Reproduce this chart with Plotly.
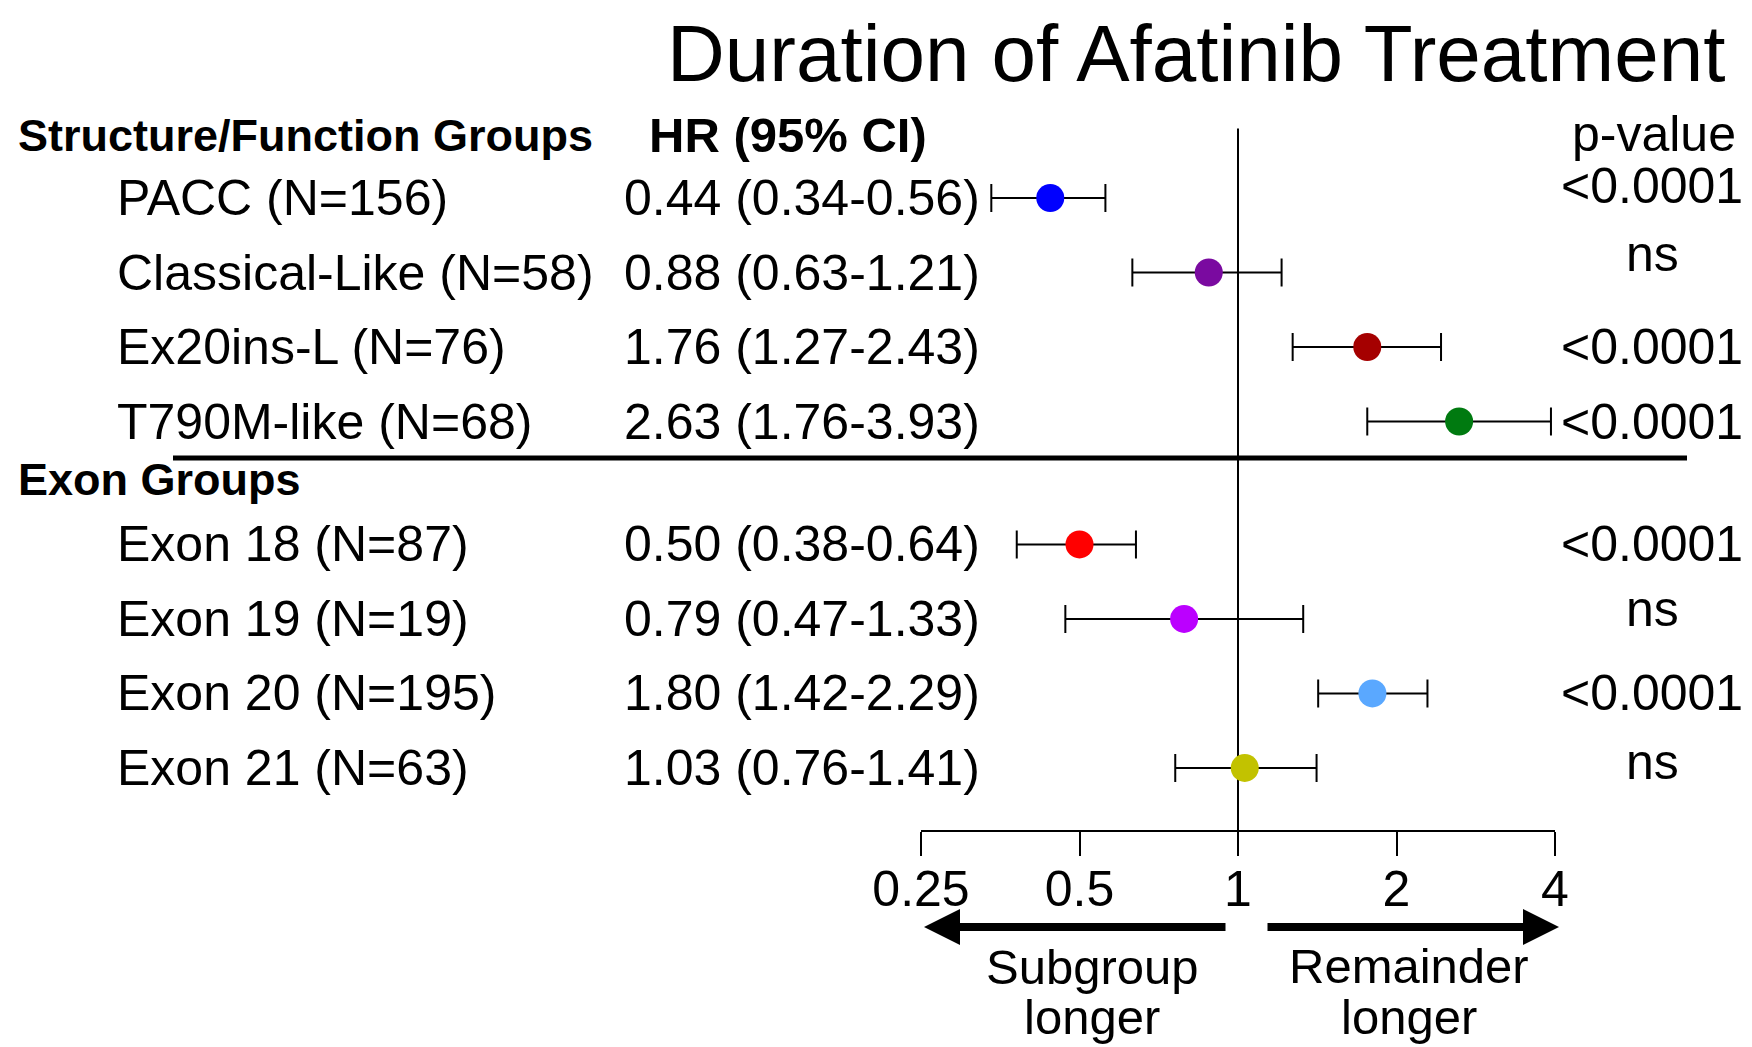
import math
import plotly.graph_objects as go

W, H = 1752, 1047

# ---------------- data ----------------
title_text = "Duration of Afatinib Treatment"
group_headers = ["Structure/Function Groups", "Exon Groups"]
hr_header = "HR (95% CI)"
p_header = "p-value"

labels_struct = ["PACC (N=156)", "Classical-Like (N=58)", "Ex20ins-L (N=76)", "T790M-like (N=68)"]
hr_struct = [0.44, 0.88, 1.76, 2.63]
lo_struct = [0.34, 0.63, 1.27, 1.76]
hi_struct = [0.56, 1.21, 2.43, 3.93]
p_struct = ["<0.0001", "ns", "<0.0001", "<0.0001"]

labels_exon = ["Exon 18 (N=87)", "Exon 19 (N=19)", "Exon 20 (N=195)", "Exon 21 (N=63)"]
hr_exon = [0.50, 0.79, 1.80, 1.03]
lo_exon = [0.38, 0.47, 1.42, 0.76]
hi_exon = [0.64, 1.33, 2.29, 1.41]
p_exon = ["<0.0001", "ns", "<0.0001", "ns"]

tick_vals = [0.25, 0.5, 1, 2, 4]
tick_text = ["0.25", "0.5", "1", "2", "4"]
left_note = ["Subgroup", "longer"]
right_note = ["Remainder", "longer"]

# ---------------- styles / layout ----------------
colors_struct = ["#0000FF", "#7A0AA0", "#A50000", "#007A10"]
colors_exon = ["#FF0000", "#BB00FF", "#5AA8FF", "#C2C200"]
pos_struct = [0, 1, 2, 3]
pos_exon = [4.65, 5.65, 6.65, 7.65]
pshift_struct = [12, 19, 0, 0]
pshift_exon = [0, 10, 0, 6]

FONT = "Liberation Sans, Arial, sans-serif"
FS = 50

# the page places the figure 8 px in from the top-left corner
OFF_X, OFF_Y = -8.0, -8.0
ROW0_PX, ROW_PX = 198.0, 74.5
Y_TOP_PX, Y_BOT_PX = 100.0, 830.0
X_L_PX, X_R_PX = 921.0, 1555.0


def row_at(py):
    return (py - ROW0_PX) / ROW_PX


def xp(px):
    return (px + OFF_X) / W


def yp(py):
    return 1 - (py + OFF_Y) / H


fig = go.Figure()

for hr, lo, hi, cols, pos in [
    (hr_struct, lo_struct, hi_struct, colors_struct, pos_struct),
    (hr_exon, lo_exon, hi_exon, colors_exon, pos_exon),
]:
    fig.add_trace(go.Scatter(
        x=hr, y=pos, mode="markers",
        marker=dict(size=28, color=cols, line=dict(width=0)),
        error_x=dict(type="data", symmetric=False,
                     array=[h - r for h, r in zip(hi, hr)],
                     arrayminus=[r - l for r, l in zip(hr, lo)],
                     color="black", thickness=2, width=14),
        hoverinfo="skip", cliponaxis=False,
    ))

annotations = []


def add_text(text, x, y, xanchor="left", yref="paper", size=FS, bold=False, yshift=0):
    annotations.append(dict(
        text=("<b>%s</b>" % text) if bold else text,
        x=x, y=y, xref="paper", yref=yref, xanchor=xanchor, yanchor="middle",
        showarrow=False, yshift=yshift, borderpad=0,
        font=dict(family=FONT, size=size, color="black"),
    ))


# title and headers
add_text(title_text, xp(1726), yp(54), xanchor="right", size=80)
add_text(group_headers[0], xp(17), yp(135), bold=True, size=45)
add_text(hr_header, xp(648), yp(135), bold=True, size=49)
add_text(p_header, xp(1654), yp(134), xanchor="center")
add_text(group_headers[1], xp(17), yp(479), bold=True, size=45)

# rows
for labels, hr, lo, hi, pv, pos, psh in [
    (labels_struct, hr_struct, lo_struct, hi_struct, p_struct, pos_struct, pshift_struct),
    (labels_exon, hr_exon, lo_exon, hi_exon, p_exon, pos_exon, pshift_exon),
]:
    for lab, r, l, h, p, y, s in zip(labels, hr, lo, hi, pv, pos, psh):
        add_text(lab, xp(116), y, yref="y")
        add_text("%.2f (%.2f-%.2f)" % (r, l, h), xp(981), y, xanchor="right", yref="y")
        add_text(p, xp(1652), y, xanchor="center", yref="y", yshift=s)

# bottom notes
add_text(left_note[0], xp(1092), yp(967), xanchor="center", size=49)
add_text(left_note[1], xp(1092), yp(1017), xanchor="center", size=49)
add_text(right_note[0], xp(1409), yp(966), xanchor="center", size=49)
add_text(right_note[1], xp(1409), yp(1017), xanchor="center", size=49)

# arrows
for tip, tail in [(924, 1227), (1559, 1266)]:
    annotations.append(dict(
        text="", x=xp(tip), y=yp(927), xref="paper", yref="paper",
        ax=tail - tip, ay=0, showarrow=True, arrowhead=2, arrowsize=0.9,
        arrowwidth=8, arrowcolor="black", standoff=0, startstandoff=0,
    ))

shapes = [
    dict(type="line", xref="x", yref="y", x0=1, x1=1,
         y0=row_at(128.5), y1=row_at(Y_BOT_PX),
         line=dict(color="black", width=2), layer="below"),
    dict(type="line", xref="paper", yref="y", x0=xp(173), x1=xp(1687),
         y0=row_at(458), y1=row_at(458),
         line=dict(color="black", width=5)),
]

fig.update_layout(
    width=W, height=H,
    margin=dict(l=0, r=0, t=0, b=0, pad=0, autoexpand=False),
    paper_bgcolor="white", plot_bgcolor="white", showlegend=False,
    annotations=annotations, shapes=shapes,
    xaxis=dict(type="log", domain=[xp(X_L_PX), xp(X_R_PX)],
               range=[math.log10(0.25), math.log10(4)],
               tickvals=tick_vals, ticktext=tick_text,
               ticks="outside", ticklen=24, tickwidth=2, tickcolor="black",
               showline=True, linecolor="black", linewidth=2,
               showgrid=False, zeroline=False, automargin=False,
               ticklabelstandoff=-10,
               tickfont=dict(family=FONT, size=FS, color="black"),
               anchor="y", fixedrange=True),
    yaxis=dict(domain=[yp(Y_BOT_PX), yp(Y_TOP_PX)],
               range=[row_at(Y_BOT_PX), row_at(Y_TOP_PX)],
               visible=False, showgrid=False, zeroline=False,
               automargin=False, fixedrange=True),
)

fig.write_html("out.html")
